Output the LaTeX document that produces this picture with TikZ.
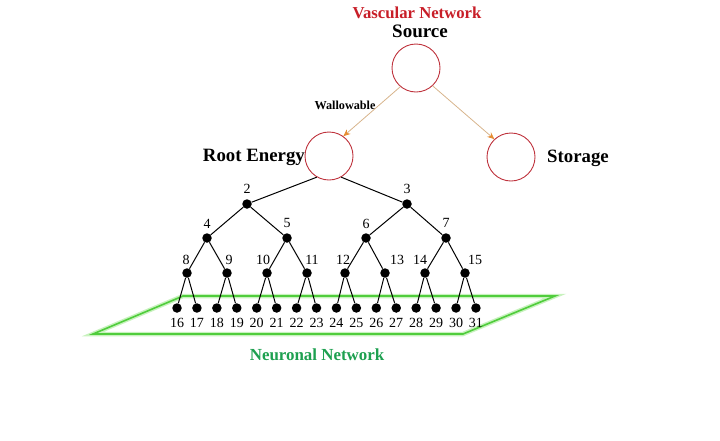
\documentclass[tikz,border=0pt]{standalone}
\usepackage{fontspec}
\setmainfont{Liberation Serif}
\usetikzlibrary{arrows.meta}
\definecolor{vred}{RGB}{200,30,40}
\definecolor{circred}{RGB}{190,50,60}
\definecolor{ngreen}{RGB}{30,160,80}
\definecolor{pgreen}{RGB}{80,205,60}
\definecolor{pglow}{RGB}{200,242,190}
\definecolor{arrtan}{RGB}{215,180,140}
\definecolor{arrorange}{RGB}{230,140,50}
\begin{document}
\begin{tikzpicture}[x=1pt,y=-1pt,
  bigcirc/.style={circle,draw=circred,line width=0.9pt,minimum size=48pt,inner sep=0pt},
  dot/.style={circle,fill=black,inner sep=0pt,minimum size=9.5pt},
  num/.style={inner sep=0pt,font=\fontsize{14}{14}\selectfont},
  boldlbl/.style={inner sep=0pt,font=\bfseries\fontsize{18.8}{19}\selectfont},
  edge/.style={line width=1pt,black},
  vasc/.style={draw=arrtan,line width=0.8pt,-{Stealth[length=7pt,width=6pt,color=arrorange]}}]
\path[use as bounding box] (0,0) rectangle (720,440);

% titles
\node[inner sep=0pt,text=vred,font=\bfseries\fontsize{16.7}{17}\selectfont] (vt) at (417,13) {Vascular Network};
\node[inner sep=0pt,font=\bfseries\fontsize{19}{19}\selectfont] (srct) at (420,31) {Source};

% big circles
\node[bigcirc] (src) at (416,68) {};
\node[bigcirc] (re) at (329,156) {};
\node[bigcirc] (st) at (511,157) {};
\node[boldlbl,anchor=east] (ret) at (305,157) {Root Energy};
\node[boldlbl,anchor=west] (stt) at (547,158) {Storage};
\node[inner sep=0pt,font=\bfseries\fontsize{12.2}{12}\selectfont] (wal) at (345,105) {Wallowable};

% vascular arrows
\draw[vasc] (src.230) -- (re.54);
\draw[vasc] (src.313) -- (st.133);

% green plane
\coordinate (p1) at (183,296);
\coordinate (p2) at (555,296);
\coordinate (p3) at (463,334);
\coordinate (p4) at (93,334);
\draw[pglow,line width=4.5pt,line join=miter] (p1) -- (p2) -- (p3) -- (p4) -- cycle;
\draw[pgreen,line width=1.6pt,line join=miter] (p1) -- (p2) -- (p3) -- (p4) -- cycle;
\node[inner sep=0pt,text=ngreen,font=\bfseries\fontsize{16.9}{17}\selectfont] (nn) at (317,355) {Neuronal Network};

% tree nodes
\node[dot] (n2) at (247,204) {};
\node[dot] (n3) at (407,204) {};
\node[dot] (n4) at (207,238) {};
\node[dot] (n5) at (287,238) {};
\node[dot] (n6) at (366,238) {};
\node[dot] (n7) at (446,238) {};
\foreach \i/\x in {8/187,9/227,10/267,11/307,12/345,13/385,14/425,15/465}
  \node[dot] (n\i) at (\x,273) {};
\foreach \i in {16,...,31}
  \node[dot] (n\i) at ({177+19.93*(\i-16)},308) {};

% labels
\node[num] (l2) at (247,189) {2};
\node[num] (l3) at (407,189) {3};
\node[num] (l4) at (207,224) {4};
\node[num] (l5) at (287,223) {5};
\node[num] (l6) at (366,224) {6};
\node[num] (l7) at (446,223) {7};
\foreach \i/\x in {8/186,9/229,10/263,11/312,12/343,13/397,14/420,15/475}
  \node[num] (l\i) at (\x,260) {\i};
\foreach \i in {16,...,31}
  \node[num] (l\i) at ({177+19.93*(\i-16)},323) {\i};

% edges
\draw[edge] (re.240) -- (n2);
\draw[edge] (re.300) -- (n3);
\foreach \p/\a/\b in {2/4/5,3/6/7,4/8/9,5/10/11,6/12/13,7/14/15,8/16/17,9/18/19,10/20/21,11/22/23,12/24/25,13/26/27,14/28/29,15/30/31}{
  \draw[edge] (n\p) -- (n\a);
  \draw[edge] (n\p) -- (n\b);
}
\end{tikzpicture}
\end{document}
